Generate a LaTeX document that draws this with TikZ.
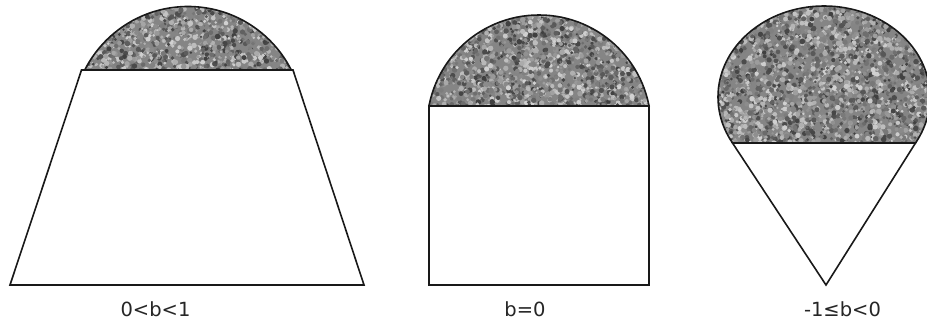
\documentclass[tikz,border=0pt]{standalone}
\usepackage{fontspec}
\setmainfont{DejaVu Sans}
\tikzset{
  outline/.style={draw=black!90, line width=1.6pt, line join=miter},
  lab/.style={font=\fontsize{19.5}{22}\selectfont, text=black!85, anchor=base, inner sep=0pt},
}
\newcommand{\grainfill}[5]{%
  \fill[black!48] (#1,#2) rectangle ++(#3,#4);
  \foreach \k in {1,...,#5}{%
    \pgfmathsetmacro\gx{#1+#3*rnd}%
    \pgfmathsetmacro\gy{#2+#4*rnd}%
    \pgfmathsetmacro\gc{int(18+58*rnd)}%
    \pgfmathsetmacro\gr{1.2+1.6*rnd}%
    \fill[black!\gc] (\gx,\gy) circle[radius=\gr];
  }}
\begin{document}
\begin{tikzpicture}[x=1pt,y=-1pt]
\pgfmathsetseed{42}
\useasboundingbox (0,0) rectangle (927,324);
\fill[white] (0,0) rectangle (927,324);
% ---- shape 1: trapezoid with cap
\begin{scope}
  \clip (188,122.2) circle[radius=115.7];
  \clip (0,0) rectangle (400,70);
  \grainfill{70}{0}{236}{72}{1500}
\end{scope}
\begin{scope}
  \clip (0,0) rectangle (400,70);
  \draw[outline] (188,122.2) circle[radius=115.7];
\end{scope}
\draw[outline] (81.5,70) -- (293,70) -- (364,285) -- (10,285) -- cycle;
% ---- shape 2: rectangle with cap
\begin{scope}
  \clip (539,127) circle[radius=112];
  \clip (400,0) rectangle (680,106);
  \grainfill{425}{10}{228}{98}{2000}
\end{scope}
\begin{scope}
  \clip (400,0) rectangle (680,106);
  \draw[outline] (539,127) circle[radius=112];
\end{scope}
\draw[outline] (429,106) rectangle (649,285);
% ---- shape 3: cone with ball
\begin{scope}
  \clip (824,97) ellipse[x radius=106, y radius=91];
  \clip (700,0) rectangle (940,143);
  \grainfill{714}{2}{220}{144}{2900}
\end{scope}
\begin{scope}
  \clip (700,0) rectangle (940,143);
  \draw[outline] (824,97) ellipse[x radius=106, y radius=91];
\end{scope}
\draw[outline] (732.5,143) -- (915.5,143) -- (826,285) -- cycle;
% ---- labels
\node[lab] (l1) at (155.5,316) {0<b<1};
\node[lab] (l2) at (525,316) {b=0};
\node[lab] (l3) at (842.5,316) {-1≤b<0};
\end{tikzpicture}
\end{document}
